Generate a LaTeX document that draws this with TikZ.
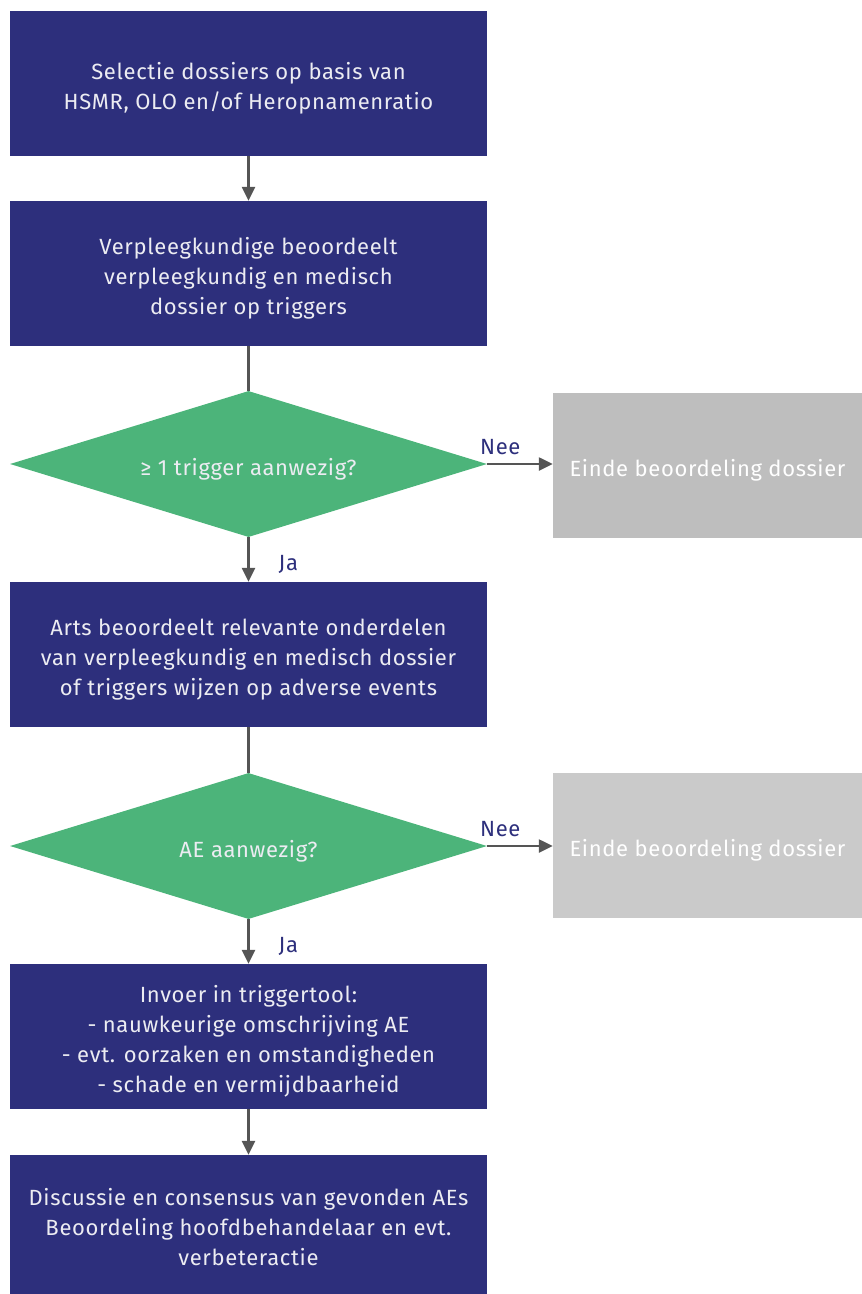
\documentclass[tikz,border=0pt]{standalone}
\usepackage{fontspec}
\setmainfont[LetterSpace=3]{Fira Sans}
\usetikzlibrary{arrows.meta,shapes.geometric}
\definecolor{boxblue}{HTML}{2D2F7C}
\definecolor{dgreen}{HTML}{4CB47A}
\definecolor{grayA}{HTML}{BEBEBE}
\definecolor{grayB}{HTML}{CACACA}
\definecolor{arrowgray}{HTML}{555555}
\definecolor{txtwhite}{HTML}{ECECF2}
\newcommand{\tx}[1]{\raisebox{-5pt}[\height][\depth]{\begin{tabular}{@{}c@{}}#1\end{tabular}}}
\begin{document}
\begin{tikzpicture}[x=1pt,y=-1pt,
  font=\fontsize{22}{30}\selectfont,
  bluebox/.style={fill=boxblue,text=txtwhite,minimum width=477pt,minimum height=145pt,inner sep=0pt},
  graybox/.style={text=white,minimum width=309pt,minimum height=145pt,inner sep=0pt},
  decision/.style={diamond,fill=dgreen,minimum width=477pt,minimum height=146pt,inner sep=0pt,aspect=3.27},
  dtext/.style={text=txtwhite,inner sep=0pt},
  conn/.style={draw=arrowgray,line width=2.4pt},
  arr/.style={conn,-{Triangle[length=14pt,width=13pt]}},
  lbl/.style={text=boxblue,inner sep=0pt}]
\useasboundingbox (0,0) rectangle (862,1294);
\node[bluebox] (b1) at (248.5,83.5) {\tx{Selectie dossiers op basis van\\HSMR, OLO en/of Heropnamenratio}};
\node[bluebox] (b2) at (248.5,273.5) {\tx{Verpleegkundige beoordeelt\\verpleegkundig en medisch\\dossier op triggers}};
\node[decision] (d1) at (248.5,464) {};
\node[dtext] (t1) at (d1.center) {\tx{≥ 1 trigger aanwezig?}};
\node[graybox,fill=grayA] (g1) at (707.5,465) {\tx{Einde beoordeling dossier}};
\node[bluebox] (b3) at (248.5,654.5) {\tx{Arts beoordeelt relevante onderdelen\\van verpleegkundig en medisch dossier\\of triggers wijzen op adverse events}};
\node[decision] (d2) at (248.5,846) {};
\node[dtext] (t2) at (d2.center) {\tx{AE aanwezig?}};
\node[graybox,fill=grayB] (g2) at (707.5,845) {\tx{Einde beoordeling dossier}};
\node[bluebox] (b4) at (248.5,1036.5) {\tx{Invoer in triggertool:\\- nauwkeurige omschrijving AE\\- evt. oorzaken en omstandigheden\\- schade en vermijdbaarheid}};
\node[bluebox,minimum height=139pt] (b5) at (248.5,1224.5) {\tx{Discussie en consensus van gevonden AEs\\Beoordeling hoofdbehandelaar en evt.\\verbeteractie}};
\draw[arr] (b1.south) -- (b2.north);
\draw[conn] (b2.south) -- (d1.north);
\draw[arr] (d1.south) -- (b3.north) node[lbl,pos=0.6,right=29pt] {Ja};
\draw[arr] (d1.east) -- (g1.west |- d1.east) node[lbl,pos=0.2,above=8pt] {Nee};
\draw[conn] (b3.south) -- (d2.north);
\draw[arr] (d2.south) -- (b4.north) node[lbl,pos=0.6,right=29pt] {Ja};
\draw[arr] (d2.east) -- (g2.west |- d2.east) node[lbl,pos=0.2,above=8pt] {Nee};
\draw[arr] (b4.south) -- (b5.north);
\end{tikzpicture}
\end{document}
